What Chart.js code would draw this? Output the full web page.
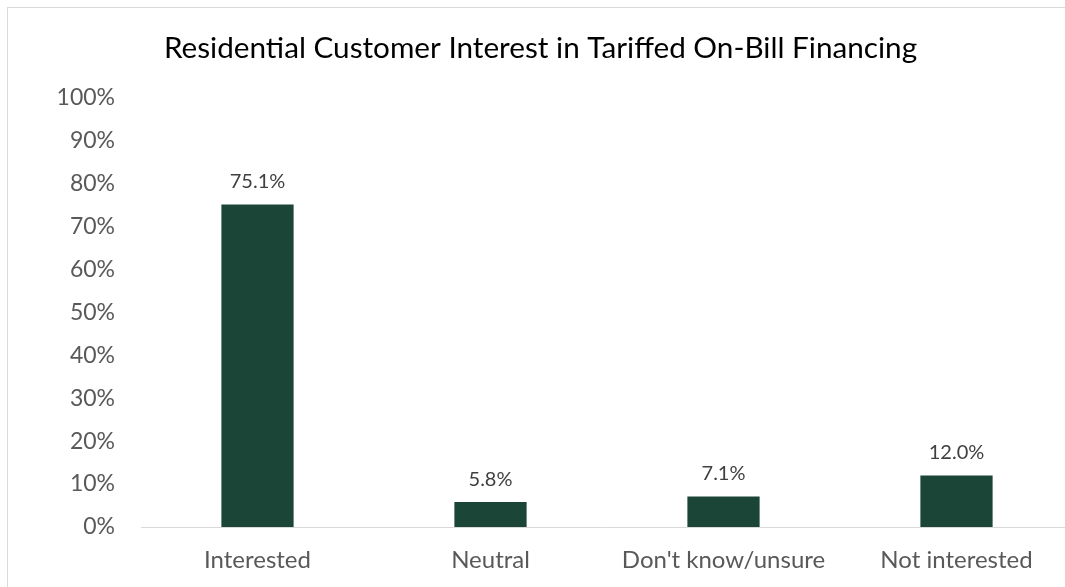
<!DOCTYPE html>
<html>
<head>
<meta charset="utf-8">
<script src="https://cdn.jsdelivr.net/npm/chart.js@4"></script>
<style>
  html, body { margin: 0; padding: 0; background: #fff; overflow: hidden; }
  #box { position: absolute; left: 7px; top: 7px; width: 1075px; height: 595px; border: 1px solid #d9d9d9; box-sizing: border-box; }
  #wrap { position: absolute; left: 8px; top: 8px; width: 1065px; height: 579px; }
</style>
</head>
<body>
<div id="box"></div>
<div id="wrap"><canvas id="chart"></canvas></div>
<script>
const categories = ['Interested', 'Neutral', "Don't know/unsure", 'Not interested'];
const interestValues = [75.1, 5.8, 7.1, 12.0];
const chartTitle = 'Residential Customer Interest in Tariffed On-Bill Financing';

// draws the value above each bar (no datalabels plugin offline)
const barLabels = {
  id: 'barLabels',
  afterDatasetsDraw(chart) {
    const ctx = chart.ctx;
    const meta = chart.getDatasetMeta(0);
    ctx.save();
    ctx.font = '20px Lato';
    ctx.fillStyle = '#404040';
    ctx.textAlign = 'center';
    ctx.textBaseline = 'bottom';
    meta.data.forEach((bar, i) => {
      ctx.fillText(interestValues[i].toFixed(1) + '%', bar.x, bar.y - 13);
    });
    ctx.restore();
  }
};

new Chart(document.getElementById('chart'), {
  type: 'bar',
  data: {
    labels: categories,
    datasets: [{
      data: interestValues,
      backgroundColor: '#1b4637',
      barPercentage: 0.62,
      categoryPercentage: 0.5
    }]
  },
  options: {
    responsive: true,
    maintainAspectRatio: false,
    animation: false,
    layout: { padding: { left: 0, right: 0, top: 0, bottom: 0 } },
    plugins: {
      legend: { display: false },
      tooltip: { enabled: false },
      title: {
        display: true,
        text: chartTitle,
        color: '#000',
        font: { family: 'Lato', size: 29.7, weight: 'normal' },
        padding: { top: 23, bottom: 31 }
      }
    },
    scales: {
      x: {
        grid: { display: false, drawTicks: false },
        border: { display: true, color: '#d9d9d9', width: 1 },
        ticks: { color: '#595959', font: { family: 'Lato', size: 24 }, padding: 19, maxRotation: 0 },
        afterFit(scale) { scale.height = 60; }
      },
      y: {
        min: 0,
        max: 100,
        grid: { display: false, drawTicks: false },
        border: { display: false },
        ticks: {
          stepSize: 10,
          color: '#595959',
          font: { family: 'Lato', size: 23 },
          padding: 26,
          callback: v => v + '%'
        },
        afterFit(scale) { scale.width = 133; }
      }
    }
  },
  plugins: [barLabels]
});
</script>
</body>
</html>
